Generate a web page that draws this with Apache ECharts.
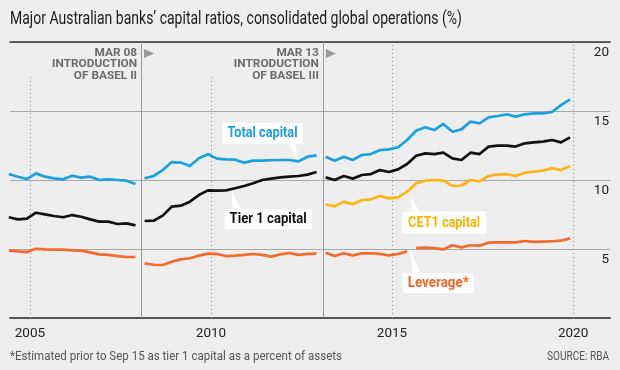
<!DOCTYPE html>
<html><head><meta charset="utf-8">
<script src="https://cdn.jsdelivr.net/npm/echarts@6/dist/echarts.min.js"></script>
<style>html,body{margin:0;padding:0;background:#eeeeee}#c{width:620px;height:370px}</style>
</head><body><div id="c"></div>
<script>
// ---------- DATA ----------
const titleText = 'Major Australian banks\u2019 capital ratios, consolidated global operations (%)';
const footnoteText = '*Estimated prior to Sep 15 as tier 1 capital as a percent of assets';
const sourceText = 'SOURCE: RBA';
const xTickValues = [2005, 2010, 2015, 2020];
const yTickValues = [5, 10, 15, 20];

// quarterly observations, first quarter of each segment and count
const seg1Start = '2004-06', seg1Count = 15;
const seg2Start = '2008-03', seg2Count = 20;
const seg3Start = '2013-03', seg3Count = 28;

const total1 = [10.43, 10.24, 10.07, 10.48, 10.24, 10.12, 10.05, 10.31, 10.17, 10.24, 10.0, 10.05, 10.0, 9.95, 9.71];
const tier1_1 = [7.30, 7.15, 7.20, 7.63, 7.51, 7.39, 7.30, 7.46, 7.34, 7.15, 6.98, 6.98, 6.81, 6.86, 6.71];
const lev1 = [4.90, 4.83, 4.78, 5.02, 4.97, 4.95, 4.95, 4.90, 4.88, 4.76, 4.61, 4.57, 4.49, 4.42, 4.42];

const total2 = [10.12, 10.29, 10.72, 11.30, 11.26, 11.01, 11.57, 11.86, 11.55, 11.50, 11.47, 11.26, 11.40, 11.40, 11.43, 11.45, 11.45, 11.35, 11.69, 11.79];
const tier1_2 = [7.03, 7.05, 7.42, 8.07, 8.14, 8.43, 8.91, 9.25, 9.23, 9.25, 9.40, 9.57, 9.76, 10.0, 10.10, 10.19, 10.24, 10.29, 10.39, 10.58];
const lev2 = [3.96, 3.86, 3.84, 4.08, 4.25, 4.33, 4.52, 4.66, 4.64, 4.49, 4.52, 4.57, 4.64, 4.57, 4.45, 4.61, 4.71, 4.57, 4.64, 4.66];

const total3 = [11.69, 11.40, 11.69, 11.45, 11.81, 11.88, 12.17, 12.22, 12.37, 12.90, 13.57, 13.82, 13.62, 14.06, 13.50, 13.67, 14.23, 14.11, 14.54, 14.64, 14.76, 14.59, 14.76, 14.83, 14.83, 14.93, 15.43, 15.85];
const tier1_3 = [10.19, 10.0, 10.29, 10.10, 10.36, 10.43, 10.72, 10.58, 10.77, 11.16, 11.76, 11.93, 11.88, 11.98, 11.57, 11.45, 11.98, 11.88, 12.42, 12.49, 12.49, 12.42, 12.66, 12.73, 12.78, 12.90, 12.73, 13.09];
const cet1_3 = [8.24, 8.09, 8.43, 8.24, 8.55, 8.60, 8.84, 8.67, 8.74, 9.15, 9.76, 9.95, 10.0, 9.95, 9.57, 9.60, 10.0, 9.90, 10.29, 10.39, 10.43, 10.29, 10.53, 10.60, 10.68, 10.85, 10.72, 11.01];
const lev3Est = [4.73, 4.49, 4.69, 4.54, 4.69, 4.69, 4.64, 4.54, 4.64, 4.83];          // Mar 13 - Jun 15 (estimated)
const lev3 = [5.07, 5.10, 5.07, 4.97, 5.27, 5.12, 5.27, 5.24, 5.46, 5.48, 5.48, 5.48, 5.58, 5.51, 5.53, 5.56, 5.60, 5.77]; // Sep 15 -

const baselEvents = [
  {date: 2008.07, text: 'MAR 08\nINTRODUCTION\nOF BASEL II'},
  {date: 2013.09, text: 'MAR 13\nINTRODUCTION\nOF BASEL III'}
];

// ---------- HELPERS ----------
function quarters(start, n) {
  let [y, m] = start.split('-').map(Number); const out = [];
  for (let i = 0; i < n; i++) { out.push(y + '-' + String(m).padStart(2, '0')); m += 3; if (m > 12) { m -= 12; y++; } }
  return out;
}
function toYear(d) { const [y, m] = d.split('-').map(Number); return y + (m - 1) / 12; }
function pairs(dates, vals) { return vals.map((v, i) => [toYear(dates[i]), v]); }

const d1 = quarters(seg1Start, seg1Count), d2 = quarters(seg2Start, seg2Count), d3 = quarters(seg3Start, seg3Count);

const BLUE = '#1ba1e2', BLACK = '#111111', YELLOW = '#fdb515', ORANGE = '#f26b2b';
const FONT = 'Roboto, "Noto Sans", sans-serif';

function lineSeries(data, color) {
  return {type: 'line', data: data, showSymbol: false, symbol: 'none', z: 5, animation: false, silent: true,
          lineStyle: {color: color, width: 2.7, cap: 'butt', join: 'round'}};
}

const chart = echarts.init(document.getElementById('c'), null, {renderer: 'canvas'});
const XMIN = 2004.45, XMAX = 2021.02;

const dotted = {color: '#909090', width: 1, type: [1, 3]};
const solidV = {color: '#9a9a9a', width: 1, type: 'solid'};

const option = {
  backgroundColor: '#eeeeee',
  animation: false,
  grid: {left: 10, right: 10, top: 42, bottom: 52},
  xAxis: [{
    type: 'value', min: XMIN, max: XMAX, position: 'bottom',
    axisLine: {show: true, onZero: false, lineStyle: {color: '#555', width: 2}},
    axisTick: {show: false},
    splitLine: {show: false},
    axisLabel: {customValues: xTickValues, color: '#222', fontSize: 13.5, fontFamily: FONT, margin: 9,
                formatter: v => String(Math.round(v))}
  }, {
    type: 'value', min: XMIN, max: XMAX, position: 'top',
    axisLine: {show: true, onZero: false, lineStyle: {color: '#333', width: 1.5}},
    axisTick: {show: false}, axisLabel: {show: false}, splitLine: {show: false}
  }],
  yAxis: {
    type: 'value', min: 0, max: 20, interval: 5, position: 'right',
    axisLine: {show: false}, axisTick: {show: false},
    splitLine: {lineStyle: {color: '#a8a8a8', width: 1}},
    axisLabel: {inside: true, margin: 1, verticalAlign: 'top', padding: [4, 0, 0, 0],
                color: '#222', fontSize: 13.5, fontFamily: FONT,
                formatter: v => (yTickValues.indexOf(v) >= 0 ? String(v) : '')}
  },
  series: [
    {type: 'line', data: [], z: 1, silent: true,
     markLine: {symbol: ['none', 'none'], silent: true, animation: false, label: {show: false},
       data: [
         {xAxis: baselEvents[0].date, lineStyle: solidV},
         {xAxis: baselEvents[1].date, lineStyle: solidV},
         {xAxis: 2015, lineStyle: dotted},
         {xAxis: 2020, lineStyle: dotted},
         [{coord: [2005, 0], lineStyle: dotted}, {coord: [2005, 17.54]}],
         [{coord: [2010, 0], lineStyle: dotted}, {coord: [2010, 17.54]}]
       ]}},
    lineSeries(pairs(d1, total1), BLUE),
    lineSeries(pairs(d1, tier1_1), BLACK),
    lineSeries(pairs(d1, lev1), ORANGE),
    lineSeries(pairs(d2, total2), BLUE),
    lineSeries(pairs(d2, tier1_2), BLACK),
    lineSeries(pairs(d2, lev2), ORANGE),
    lineSeries(pairs(d3, total3), BLUE),
    lineSeries(pairs(d3, tier1_3), BLACK),
    lineSeries(pairs(d3, cet1_3), YELLOW),
    lineSeries(pairs(d3.slice(0, lev3Est.length), lev3Est), ORANGE),
    lineSeries(pairs(d3.slice(lev3Est.length), lev3), ORANGE)
  ]
};
chart.setOption(option);

// ---------- ANNOTATIONS (positioned through the chart's scales) ----------
const mctx = document.createElement('canvas').getContext('2d');
function fit(str, font, target) { mctx.font = font; const w = mctx.measureText(str).width; return w > 0 ? target / w : 1; }
function px(x, y) { return chart.convertToPixel({xAxisIndex: 0, yAxisIndex: 0}, [x, y]); }
function txt(x, y, text, font, fill, align, vAlign, scale, extra) {
  return {type: 'text', x: x, y: y, scaleX: scale, z: 100, silent: true,
    style: Object.assign({text: text, font: font, fill: fill, align: align, verticalAlign: vAlign,
                          textAlign: align, textVerticalAlign: vAlign}, extra || {})};
}

const graphics = [];
// title & footer
const titleFont = '18px ' + FONT;
graphics.push(txt(10, 19, titleText, titleFont, '#1a1a1a', 'left', 'middle', fit(titleText, titleFont, 452)));
const footFont = '13px ' + FONT;
graphics.push(txt(10, 357, footnoteText, footFont, '#555', 'left', 'middle', fit(footnoteText, footFont, 332)));
const srcFont = '12px ' + FONT;
graphics.push(txt(609, 357, sourceText, srcFont, '#555', 'right', 'middle', fit(sourceText, srcFont, 62)));

// Basel annotations
const annFont = 'bold 11.5px ' + FONT;
const annScale = fit('INTRODUCTION', annFont, 85);
baselEvents.forEach(ev => {
  const [lx, ty] = px(ev.date, 20);
  graphics.push(txt(lx - 4, ty + 5.5, ev.text, annFont, '#6a6a6a', 'right', 'top', annScale, {lineHeight: 11.3}));
  graphics.push({type: 'polygon', z: 100, silent: true,
    shape: {points: [[lx + 3, ty + 7], [lx + 3, ty + 16], [lx + 13, ty + 11.5]]}, style: {fill: '#999'}});
});

// callout labels
const callouts = [
  {text: 'Total capital', color: '#1a9fe0', anchor: [2012.39, 11.45], box: [-75, -37, 80, 21], ptr: [[-9, -16], [-2, -16]], tw: 70},
  {text: 'Tier 1 capital', color: '#111111', anchor: [2010.57, 9.25], box: [-7, 19, 87, 20], ptr: [[1, 19], [9, 19]], tw: 77},
  {text: 'CET1 capital', color: '#f7b400', anchor: [2015.5, 8.8], box: [-8, 15, 84, 22], ptr: [[2, 15], [10, 15]], tw: 72},
  {text: 'Leverage*', color: '#f0652a', anchor: [2015.49, 4.93], box: [-7, 23, 71, 20], ptr: [[3, 23], [11, 23]], tw: 61}
];
const cFont = 'bold 14px ' + FONT;
callouts.forEach(c => {
  const [ax, ay] = px(c.anchor[0], c.anchor[1]);
  const [bx, by, bw, bh] = c.box;
  graphics.push({type: 'polygon', z: 99, silent: true,
    shape: {points: [[ax, ay], [ax + c.ptr[0][0], ay + c.ptr[0][1]], [ax + c.ptr[1][0], ay + c.ptr[1][1]]]},
    style: {fill: '#ffffff'}});
  graphics.push({type: 'rect', z: 99, silent: true,
    shape: {x: ax + bx, y: ay + by, width: bw, height: bh}, style: {fill: '#ffffff'}});
  const s = fit(c.text, cFont, c.tw);
  graphics.push(txt(ax + bx + bw / 2 - c.tw / 2, ay + by + bh / 2 + 0.5, c.text, cFont, c.color, 'left', 'middle', s));
});

chart.setOption({graphic: {elements: graphics}});
</script>
</body></html>
